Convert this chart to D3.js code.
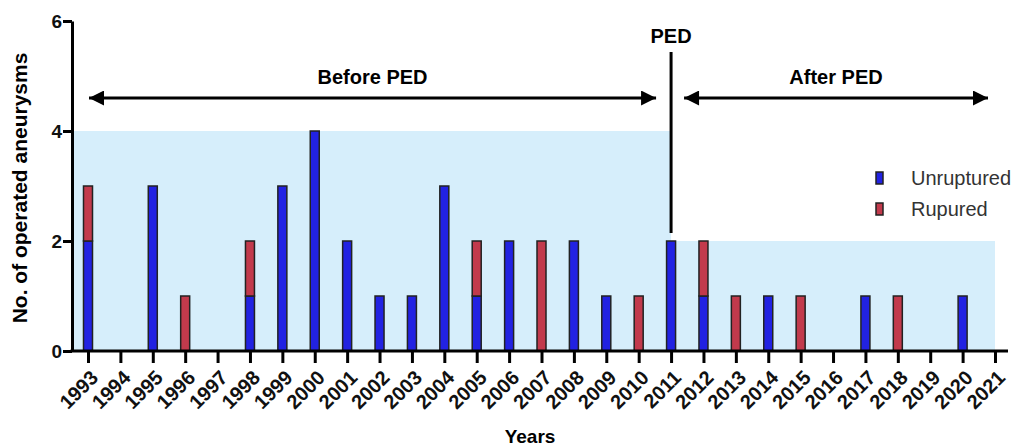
<!DOCTYPE html>
<html>
<head>
<meta charset="utf-8">
<script src="https://cdn.jsdelivr.net/npm/d3@7"></script>
<style>
  body { margin: 0; background: #fff; }
  svg { display: block; font-family: "Liberation Sans", Arial, sans-serif; }
</style>
</head>
<body>
<div id="chart"></div>
<script>
// data
const years = d3.range(1993, 2022).map(String);
const unruptured = [2,0,3,0,0,1,3,4,2,1,1,3,1,2,0,2,1,0,2,1,0,1,0,0,1,0,0,1,0];
const ruptured   = [1,0,0,1,0,1,0,0,0,0,0,0,1,0,2,0,0,1,0,1,1,0,1,0,0,1,0,0,0];
const yTicks = [0, 2, 4, 6];
const pedYear = "2011";
// shaded periods: [from, to, level]
const periods = [
    {start: null, end: "2011", level: 4},
    {start: "2011", end: "2021", level: 2}
];
const legendItems = [
    {label: "Unruptured", key: "unruptured"},
    {label: "Rupured", key: "ruptured"}
];

const svgWidth = 1017, svgHeight = 447;
const axisLeftX = 72, axisBottomY = 351;
const barWidth = 9;
const colors = {unruptured: "#2222e2", ruptured: "#c23a4c"};

let svg = d3.select("#chart")
    .append("svg")
    .attr("width", svgWidth)
    .attr("height", svgHeight);

let x = d3.scalePoint()
    .domain(years)
    .range([88, 995]);
let y = d3.scaleLinear()
    .domain([0, 6])
    .range([axisBottomY, 21]);

// background shading
svg.append("g")
    .selectAll("rect")
    .data(periods)
    .enter()
    .append("rect")
    .attr("x", d => d.start ? x(d.start) : axisLeftX)
    .attr("width", d => x(d.end) - (d.start ? x(d.start) : axisLeftX))
    .attr("y", d => y(d.level))
    .attr("height", d => y(0) - y(d.level))
    .attr("fill", "#d6eefb");

// stacked bars
let rows = years.map((yr, i) => ({year: yr, unruptured: unruptured[i], ruptured: ruptured[i]}));
let stack = d3.stack().keys(["unruptured", "ruptured"])(rows);
svg.append("g")
    .selectAll("g")
    .data(stack)
    .enter()
    .append("g")
    .attr("fill", d => colors[d.key])
    .selectAll("rect")
    .data(d => d.filter(s => s[1] > s[0]))
    .enter()
    .append("rect")
    .attr("x", d => x(d.data.year) - barWidth / 2)
    .attr("width", barWidth)
    .attr("y", d => y(d[1]))
    .attr("height", d => y(d[0]) - y(d[1]))
    .attr("stroke", "#222")
    .attr("stroke-width", 1.5);

// y axis
let yAxis = svg.append("g")
    .attr("transform", `translate(${axisLeftX}, 0)`)
    .call(d3.axisLeft(y).tickValues(yTicks).tickFormat(d3.format("d"))
        .tickSize(9).tickPadding(1).tickSizeOuter(0));
yAxis.select(".domain").attr("stroke-width", 3);
yAxis.selectAll(".tick line").attr("stroke-width", 3);
yAxis.selectAll(".tick text")
    .style("font-size", "19px")
    .style("font-weight", "bold")
    .attr("fill", "#111");

// x axis
let xAxis = svg.append("g")
    .attr("transform", `translate(0, ${axisBottomY})`)
    .call(d3.axisBottom(x).tickSize(12).tickSizeOuter(0));
xAxis.select(".domain").remove();
xAxis.append("line")
    .attr("x1", axisLeftX - 1.5)
    .attr("x2", 1008)
    .attr("stroke", "#000")
    .attr("stroke-width", 3);
xAxis.selectAll(".tick line").attr("stroke-width", 3);
xAxis.selectAll(".tick text")
    .attr("x", 0)
    .attr("y", 0)
    .attr("dy", "0.7em")
    .attr("text-anchor", "end")
    .attr("transform", "translate(1, 18) rotate(-45)")
    .style("font-size", "20px")
    .style("font-weight", "bold")
    .attr("fill", "#111");

// axis titles
svg.append("text")
    .attr("transform", `translate(27, 188) rotate(-90)`)
    .attr("text-anchor", "middle")
    .style("font-size", "21px")
    .style("font-weight", "bold")
    .text("No. of operated aneurysms");
svg.append("text")
    .attr("x", 530)
    .attr("y", 443)
    .attr("text-anchor", "middle")
    .style("font-size", "19px")
    .style("font-weight", "bold")
    .text("Years");

// PED marker
svg.append("line")
    .attr("x1", x(pedYear)).attr("x2", x(pedYear))
    .attr("y1", 52).attr("y2", 233)
    .attr("stroke", "#000")
    .attr("stroke-width", 3);
svg.append("text")
    .attr("x", x(pedYear))
    .attr("y", 43)
    .attr("text-anchor", "middle")
    .style("font-size", "20px")
    .style("font-weight", "bold")
    .text("PED");

// double arrows
let defs = svg.append("defs");
defs.append("marker")
    .attr("id", "head")
    .attr("viewBox", "0 0 10 10")
    .attr("refX", 10).attr("refY", 5)
    .attr("markerWidth", 16).attr("markerHeight", 15)
    .attr("markerUnits", "userSpaceOnUse")
    .attr("orient", "auto-start-reverse")
    .append("path")
    .attr("d", "M0,0 L10,5 L0,10 Z")
    .attr("fill", "#000");

let arrows = [
    {x1: x("1993"), x2: x(pedYear) - 14, label: "Before PED"},
    {x1: x(pedYear) + 12, x2: x("2021") - 6, label: "After PED"}
];
svg.append("g")
    .selectAll("line")
    .data(arrows)
    .enter()
    .append("line")
    .attr("x1", d => d.x1 + 1).attr("x2", d => d.x2 - 1)
    .attr("y1", 98).attr("y2", 98)
    .attr("stroke", "#000")
    .attr("stroke-width", 3)
    .attr("marker-start", "url(#head)")
    .attr("marker-end", "url(#head)");
svg.append("g")
    .selectAll("text")
    .data(arrows)
    .enter()
    .append("text")
    .attr("x", d => (d.x1 + d.x2) / 2)
    .attr("y", 84)
    .attr("text-anchor", "middle")
    .style("font-size", "20px")
    .style("font-weight", "bold")
    .text(d => d.label);

// legend
let legend = svg.append("g")
    .selectAll("g")
    .data(legendItems)
    .enter()
    .append("g")
    .attr("transform", (d, i) => `translate(876, ${172 + i * 31})`);
legend.append("rect")
    .attr("width", 7)
    .attr("height", 12)
    .attr("fill", d => colors[d.key])
    .attr("stroke", "#222")
    .attr("stroke-width", 1.5);
legend.append("text")
    .attr("x", 35)
    .attr("y", 6)
    .attr("dy", "0.35em")
    .style("font-size", "20px")
    .attr("fill", "#333")
    .text(d => d.label);
</script>
</body>
</html>
